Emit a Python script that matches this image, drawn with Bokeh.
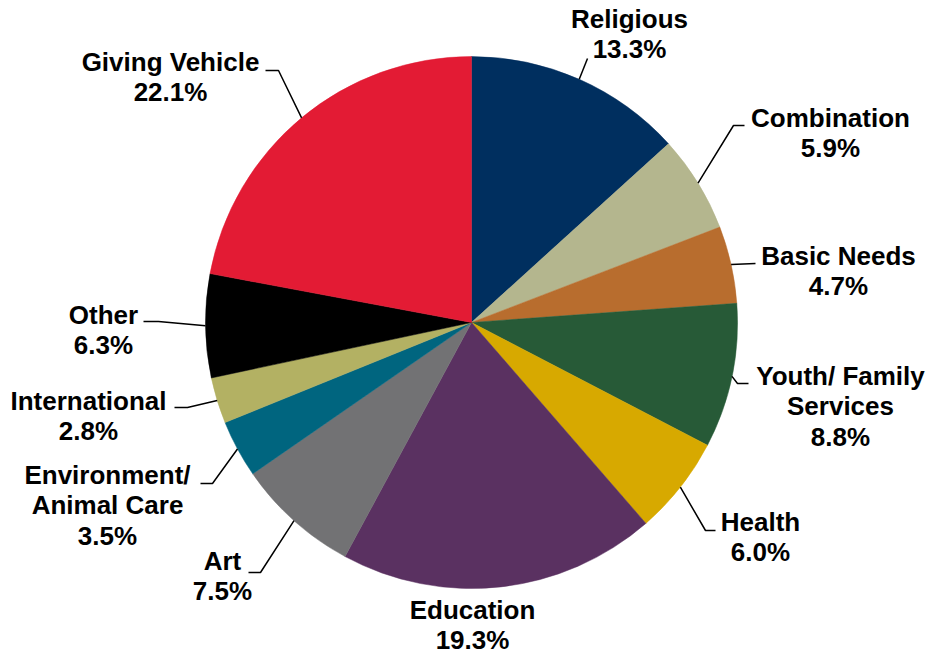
import math
from bokeh.plotting import figure
from bokeh.models import Range1d, ColumnDataSource
from bokeh.core.properties import value
from bokeh.embed import file_html
from bokeh.resources import INLINE

# ---- data ----
categories = ["Religious", "Combination", "Basic Needs", "Youth/ Family Services", "Health",
              "Education", "Art", "Environment/ Animal Care", "International", "Other",
              "Giving Vehicle"]
shares = [13.3, 5.9, 4.7, 8.8, 6.0, 19.3, 7.5, 3.5, 2.8, 6.3, 22.1]
label_lines = [["Religious"], ["Combination"], ["Basic Needs"], ["Youth/ Family", "Services"],
               ["Health"], ["Education"], ["Art"], ["Environment/", "Animal Care"],
               ["International"], ["Other"], ["Giving Vehicle"]]
colors = ["#002F5F", "#B4B68E", "#B86D2E", "#275A37", "#D7A900", "#5A3161", "#727274",
          "#00657F", "#B3B163", "#000000", "#E31B34"]

# ---- layout (screen pixels) ----
W, H = 932, 655
CX, CY, R = 471, 322, 266
LINE_H = 30.5
label_anchor = [(629, 18), (830, 117), (838, 255), (840, 375), (760, 521), (472, 609),
                (222, 560), (107, 474), (88, 400), (103, 314), (170, 61)]
leader_pts = [[(587, 58)], [(744, 125), (733, 125)], [(755, 263)], [(748, 383), (737, 383)],
              [(715, 530), (705, 530)], None, [(248, 572), (260, 572)],
              [(200, 483), (212, 483)], [(174, 407), (187, 407)], [(143, 321), (158, 321)],
              [(265, 70), (278, 70)]]

def Y(py):
    return H - py

p = figure(width=W, height=H, output_backend="svg", toolbar_location=None,
           x_range=Range1d(0, W), y_range=Range1d(0, H),
           min_border=0, outline_line_color=None)
p.axis.visible = False
p.grid.visible = False
p.background_fill_color = "white"
p.border_fill_color = "white"

total = sum(shares)
starts, ends, mids = [], [], []
cum = 0.0
for v in shares:
    a0 = math.pi / 2 - 2 * math.pi * cum / total
    cum += v
    a1 = math.pi / 2 - 2 * math.pi * cum / total
    starts.append(a0)
    ends.append(a1)
    mids.append((a0 + a1) / 2)

src = ColumnDataSource(dict(start=starts, end=ends, color=colors, cat=categories))
p.wedge(x=CX, y=Y(CY), radius=R, start_angle="start", end_angle="end", direction="clock",
        fill_color="color", line_color="color", line_width=0.5, source=src)

# leader lines
lxs, lys = [], []
for i, pts in enumerate(leader_pts):
    if pts is None:
        continue
    ex = CX + R * math.cos(mids[i])
    ey = Y(CY) + R * math.sin(mids[i])
    lxs.append([q[0] for q in pts] + [ex])
    lys.append([Y(q[1]) for q in pts] + [ey])
p.multi_line(xs=lxs, ys=lys, line_color="black", line_width=1.5)

# labels
tx, ty, tt = [], [], []
for i, lines in enumerate(label_lines):
    ax, ay = label_anchor[i]
    all_lines = lines + [f"{shares[i]:.1f}%"]
    for k, s in enumerate(all_lines):
        tx.append(ax)
        ty.append(Y(ay + k * LINE_H))
        tt.append(s)
p.text(x=tx, y=ty, text=tt, text_font=value("Liberation Sans"), text_font_style="bold",
       text_font_size="26px", text_align="center", text_baseline="middle", text_color="black")

open("out.html", "w").write(file_html(p, INLINE))
